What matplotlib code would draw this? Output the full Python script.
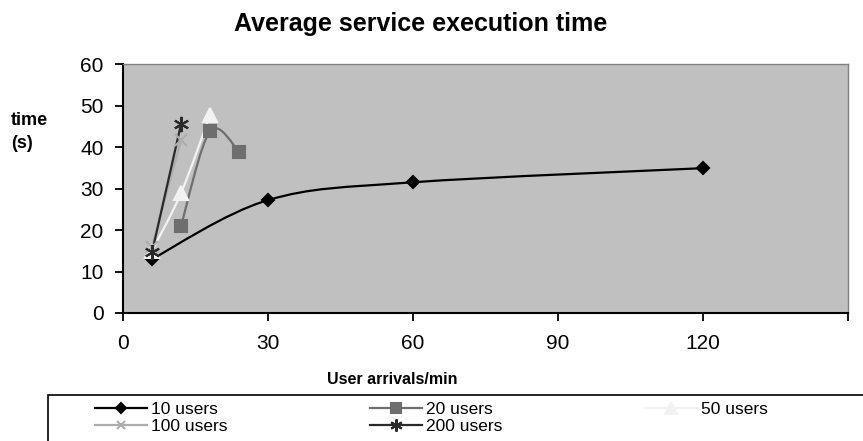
import matplotlib
matplotlib.use("Agg")
import matplotlib.pyplot as plt
import numpy as np
from matplotlib.path import Path
from matplotlib.patches import PathPatch, Rectangle
from matplotlib.lines import Line2D

plt.rcParams['font.family'] = ['Liberation Sans', 'DejaVu Sans']

# arrivals per minute and average execution time (s) per user population
x_10 = [6, 30, 60, 120]
y_10 = [13.0, 27.2, 31.5, 34.9]
x_20 = [12, 18, 24]
y_20 = [21.0, 43.8, 38.9]
x_50 = [6, 12, 18]
y_50 = [15.0, 28.9, 47.7]
x_100 = [6, 12]
y_100 = [16.0, 41.7]
x_200 = [6, 12]
y_200 = [14.6, 45.5]

labels = ["10 users", "20 users", "50 users", "100 users", "200 users"]
x_ticks = [0, 30, 60, 90, 120, 150]
x_tick_labels = ["0", "30", "60", "90", "120", ""]
y_ticks = [0, 10, 20, 30, 40, 50, 60]

W, H = 863, 441
fig = plt.figure(figsize=(W / 100, H / 100), dpi=100)
ax = fig.add_axes([123 / W, 1 - 313 / H, (848 - 123) / W, (313 - 64) / H])
ax.set_facecolor('#c0c0c0')
ax.set_xlim(0, 150)
ax.set_ylim(0, 60)


def smooth_path(xs, ys):
    """Cubic Bezier path through the points, spreadsheet-style smoothing."""
    pts = np.column_stack([xs, ys]).astype(float)
    n = len(pts)
    verts = [pts[0]]
    codes = [Path.MOVETO]
    for i in range(n - 1):
        p0 = pts[i - 1] if i > 0 else pts[i]
        p1 = pts[i]
        p2 = pts[i + 1]
        p3 = pts[i + 2] if i + 2 < n else pts[i + 1]
        c1 = p1 + (p2 - p0) / 6.0
        c2 = p2 - (p3 - p1) / 6.0
        verts += [c1, c2, p2]
        codes += [Path.CURVE4] * 3
    return Path(verts, codes)


series = [
    (x_10, y_10, '#000000', 'D', 6.5, 1.6),
    (x_20, y_20, '#6e6e6e', 's', 9, 1.6),
    (x_50, y_50, '#f2f2f2', '^', 10, 1.6),
    (x_100, y_100, '#adadad', 'x', 8, 1.6),
    (x_200, y_200, '#2a2a2a', (6, 2, 0), 11, 1.6),
]

handles = []
for (xs, ys, col, mk, ms, lw), lab in zip(series, labels):
    ax.add_patch(PathPatch(smooth_path(xs, ys), facecolor='none',
                           edgecolor=col, lw=lw, zorder=3))
    ax.plot(xs, ys, linestyle='none', marker=mk, ms=ms, color=col,
            mec=col, mew=1.5, zorder=4)
    handles.append(Line2D([], [], color=col, lw=lw, marker=mk, ms=ms * 0.8,
                          mec=col, mfc=col, mew=1.5))

ax.set_xticks(x_ticks)
ax.set_xticklabels(x_tick_labels)
ax.set_yticks(y_ticks)
ax.tick_params(axis='both', direction='out', length=6, width=1.3,
               labelsize=15, color='black')
ax.tick_params(axis='x', pad=9)
ax.tick_params(axis='y', pad=8)
for side in ('left', 'bottom'):
    ax.spines[side].set_color('black')
    ax.spines[side].set_linewidth(1.5)
for side in ('top', 'right'):
    ax.spines[side].set_color('#808080')
    ax.spines[side].set_linewidth(1.0)

fig.text(421 / W, 1 - 31 / H, "Average service execution time",
         ha='center', va='baseline', fontsize=18, fontweight='bold')
fig.text(392 / W, 1 - 380 / H, "User arrivals/min",
         ha='center', va='center', fontsize=11.5, fontweight='bold')
fig.text(11 / W, 1 - 132 / H, "time\n(s)",
         ha='left', va='center', fontsize=13, fontweight='bold',
         linespacing=1.4)

# legend frame running off the lower right edge
fig.patches.append(Rectangle((48 / W, -0.1), 1.0, 1 - 395 / H + 0.1,
                             transform=fig.transFigure, facecolor='white',
                             edgecolor='black', lw=1.2))
order = [0, 3, 1, 4, 2]
leg = fig.legend([handles[i] for i in order], [labels[i] for i in order],
                 ncol=3, loc='upper left',
                 bbox_to_anchor=(95 / W, 1 - 402 / H),
                 frameon=False, fontsize=12.5, handlelength=3.0,
                 handletextpad=0.2, columnspacing=8.25,
                 labelspacing=0.08, borderpad=0.0, borderaxespad=0.0)

fig.savefig("out.png", dpi=100)
